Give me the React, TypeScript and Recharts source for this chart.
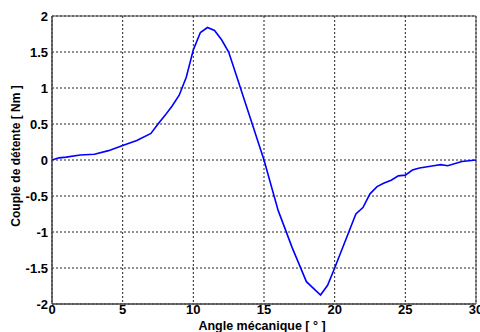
import React from 'react';
import { LineChart, Line, XAxis, YAxis, CartesianGrid, ReferenceArea, Label } from 'recharts';

const angles = [0, 0.5, 1, 2, 3, 4, 5, 6, 7, 7.5, 8, 8.5, 9, 9.5, 10, 10.5, 11, 11.5, 12, 12.5, 13, 14, 15, 16, 17, 18, 19, 19.5, 20, 21, 21.5, 22, 22.5, 23, 23.5, 24, 24.5, 25, 25.5, 26, 27, 27.5, 28, 29, 30];
const torque = [0, 0.03, 0.04, 0.07, 0.08, 0.13, 0.2, 0.27, 0.37, 0.5, 0.62, 0.75, 0.9, 1.15, 1.53, 1.77, 1.84, 1.8, 1.67, 1.5, 1.2, 0.6, 0, -0.7, -1.22, -1.69, -1.875, -1.74, -1.5, -1.0, -0.75, -0.66, -0.47, -0.37, -0.32, -0.28, -0.22, -0.21, -0.14, -0.11, -0.08, -0.065, -0.08, -0.02, 0];
const xTicks = [0, 5, 10, 15, 20, 25, 30];
const yTicks = [-2, -1.5, -1, -0.5, 0, 0.5, 1, 1.5, 2];
const xTitle = 'Angle mécanique [ ° ]';
const yTitle = 'Couple de détente [ Nm ]';

const data = angles.map((a, i) => ({ a, t: torque[i] }));

const font = '"Liberation Sans", Arial, sans-serif';

const XTitle = (props: any) => {
  const vb = props.viewBox || {};
  const cx = (vb.x || 0) + (vb.width || 0) / 2 - 2;
  return (
    <text x={cx} y={330} textAnchor="middle" fill="#000" fontSize={12.5} fontWeight="bold" fontFamily={font}>
      {xTitle}
    </text>
  );
};

const YTitle = (props: any) => {
  const vb = props.viewBox || {};
  const cy = (vb.y || 0) + (vb.height || 0) / 2 - 4;
  const cx = 20;
  return (
    <text x={cx} y={cy} transform={`rotate(-90 ${cx} ${cy})`} textAnchor="middle" fill="#000" fontSize={12} fontWeight="bold" fontFamily={font}>
      {yTitle}
    </text>
  );
};

export default function App() {
  return (
    <div style={{ position: 'absolute', left: 0, top: 0, background: '#fff' }}>
      <LineChart width={480} height={332} data={data} margin={{ top: 16, right: 4, left: 0, bottom: 0 }}>
        <CartesianGrid stroke="#222" strokeDasharray="2 2" strokeWidth={1} />
        <XAxis
          dataKey="a"
          type="number"
          domain={[0, 30]}
          ticks={xTicks}
          height={28}
          tickLine={false}
          tickSize={0}
          tickMargin={1}
          axisLine={{ stroke: '#444' }}
          tick={{ fill: '#000', fontSize: 13, fontWeight: 'bold', fontFamily: font }}
          interval={0}
        >
          <Label content={XTitle} />
        </XAxis>
        <YAxis
          type="number"
          domain={[-2, 2]}
          ticks={yTicks}
          width={52}
          tickLine={false}
          tickSize={0}
          tickMargin={4}
          axisLine={{ stroke: '#444' }}
          tick={{ fill: '#000', fontSize: 13, fontWeight: 'bold', fontFamily: font }}
          interval={0}
        >
          <Label content={YTitle} />
        </YAxis>
        <ReferenceArea x1={0} x2={30} y1={-2} y2={2} fill="none" fillOpacity={0} stroke="#444" strokeWidth={1} ifOverflow="visible" />
        <Line type="linear" dataKey="t" stroke="#0000ff" strokeWidth={1.6} dot={false} isAnimationActive={false} />
      </LineChart>
    </div>
  );
}
